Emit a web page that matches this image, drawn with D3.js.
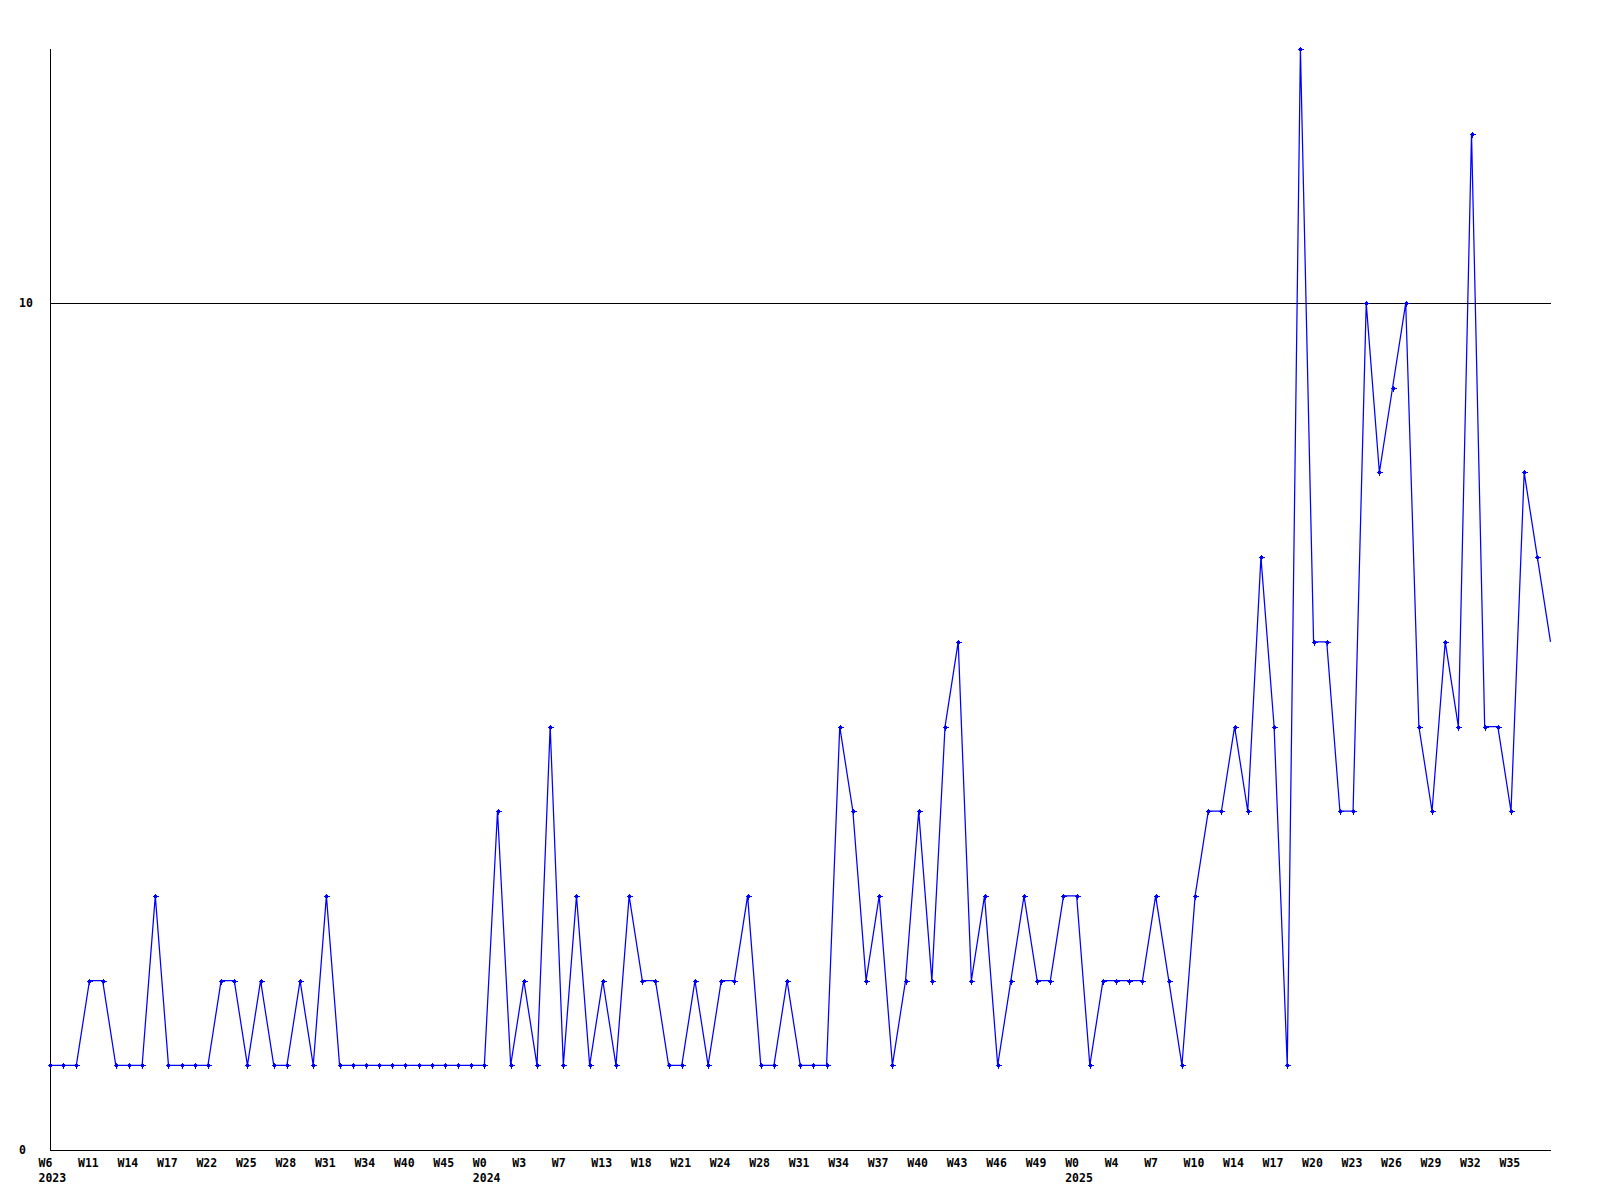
<!DOCTYPE html>
<html>
<head>
<meta charset="utf-8">
<script src="https://cdn.jsdelivr.net/npm/d3@7"></script>
<style>
  html, body { margin: 0; padding: 0; background: #ffffff; }
  svg { display: block; }
  text { font-family: "DejaVu Sans Mono", "Liberation Mono", monospace; font-weight: bold; font-size: 11.5px; fill: #000; }
</style>
</head>
<body>
<svg id="chart" width="1600" height="1200"></svg>
<script>
// Weekly counts, one per plotted week (115 weeks)
const values = [
  1,1,1,2,2,1,1,1,3,1,
  1,1,1,2,2,1,2,1,1,2,
  1,3,1,1,1,1,1,1,1,1,
  1,1,1,1,4,1,2,1,5,1,
  3,1,2,1,3,2,2,1,1,2,
  1,2,2,3,1,1,2,1,1,1,
  5,4,2,3,1,2,4,2,5,6,
  2,3,1,2,3,2,2,3,3,1,
  2,2,2,2,3,2,1,3,4,4,
  5,4,7,5,1,13,6,6,4,4,
  10,8,9,10,5,4,6,5,12,5,
  5,4,8,7,6
];
// Labels shown under every third week
const weekLabels = ["W6","W11","W14","W17","W22","W25","W28","W31","W34","W40","W45",
  "W0","W3","W7","W13","W18","W21","W24","W28","W31","W34","W37","W40","W43","W46","W49",
  "W0","W4","W7","W10","W14","W17","W20","W23","W26","W29","W32","W35"];
const labelStep = 3;
const yearLabels = ["2023","2024","2025"];
const yearLabelAt = [0, 11, 26];   // index into weekLabels
const yTicks = [0, 10];
const yMax = 13;

const svg = d3.select("#chart");
const x = d3.scaleLinear().domain([0, values.length - 1]).range([50, 1550.5]);
const y = d3.scaleLinear().domain([0, yMax]).range([1150, 49]);

// grid line at 10
svg.append("g").selectAll("line").data(yTicks.filter(d => d > 0)).join("line")
  .attr("x1", x(0)).attr("x2", x(values.length - 1))
  .attr("y1", d => Math.round(y(d)) + 0.5).attr("y2", d => Math.round(y(d)) + 0.5)
  .attr("stroke", "#000").attr("stroke-width", 1).attr("shape-rendering", "crispEdges");

// axes lines
svg.append("line")
  .attr("x1", Math.round(x(0)) + 0.5).attr("x2", Math.round(x(0)) + 0.5)
  .attr("y1", y(yMax)).attr("y2", y(0))
  .attr("stroke", "#000").attr("shape-rendering", "crispEdges");
svg.append("line")
  .attr("x1", x(0)).attr("x2", x(values.length - 1))
  .attr("y1", Math.round(y(0)) + 0.5).attr("y2", Math.round(y(0)) + 0.5)
  .attr("stroke", "#000").attr("shape-rendering", "crispEdges");

// y labels
svg.append("g").selectAll("text").data(yTicks).join("text")
  .attr("x", 19).attr("y", d => y(d) + 4)
  .attr("text-anchor", "start")
  .text(d => d);

// x labels
const xl = svg.append("g");
xl.selectAll("text.wk").data(weekLabels).join("text")
  .attr("class", "wk")
  .attr("x", (d, i) => x(i * labelStep) - 11.5)
  .attr("y", 1166.5)
  .text(d => d);
xl.selectAll("text.yr").data(yearLabels).join("text")
  .attr("class", "yr")
  .attr("x", (d, i) => x(yearLabelAt[i] * labelStep) - 11.5)
  .attr("y", 1181.5)
  .text(d => d);

// line
const line = d3.line().x((d, i) => x(i)).y(d => y(d));
svg.append("path").datum(values)
  .attr("d", line)
  .attr("fill", "none")
  .attr("stroke", "#0000ff")
  .attr("stroke-width", 1.25);

// markers (last point sits on the plot edge, unmarked)
const mk = svg.append("g").attr("fill", "#0000ff").attr("stroke", "#0000ff");
const pts = values.slice(0, values.length - 1);
mk.selectAll("path").data(pts).join("path")
  .attr("transform", (d, i) => `translate(${Math.round(x(i)) + 0.5},${Math.round(y(d)) + 0.5})`)
  .attr("d", "M-3,0H3M0,-3V3")
  .attr("stroke-width", 1.4)
  .attr("shape-rendering", "crispEdges");
mk.selectAll("rect").data(pts).join("rect")
  .attr("x", (d, i) => Math.round(x(i)) - 1)
  .attr("y", d => Math.round(y(d)) - 1)
  .attr("width", 3).attr("height", 3)
  .attr("stroke", "none")
  .attr("shape-rendering", "crispEdges");
</script>
</body>
</html>
